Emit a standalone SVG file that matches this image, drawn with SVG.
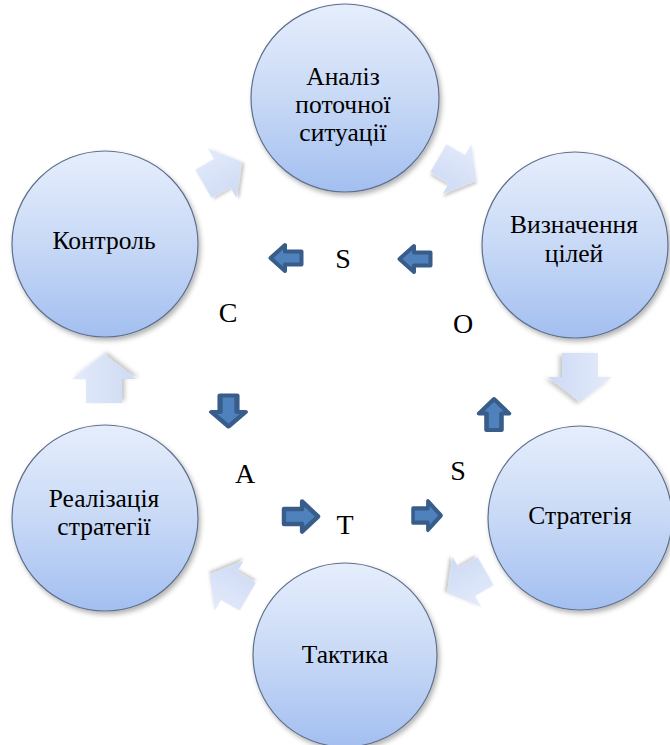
<svg xmlns="http://www.w3.org/2000/svg" width="670" height="745" viewBox="0 0 670 745">
  <defs>
    <linearGradient id="circleFill" x1="0" y1="0" x2="0" y2="1">
      <stop offset="0" stop-color="#e6eefc"/>
      <stop offset="0.5" stop-color="#c8d9f6"/>
      <stop offset="1" stop-color="#a3bff0"/>
    </linearGradient>
    <linearGradient id="paleFill" x1="0" y1="0" x2="0" y2="1">
      <stop offset="0" stop-color="#e4ebfa"/>
      <stop offset="1" stop-color="#cddaf5"/>
    </linearGradient>
    <filter id="shadow" x="-20%" y="-20%" width="140%" height="140%">
      <feDropShadow dx="2" dy="3" stdDeviation="2.5" flood-color="#000" flood-opacity="0.3"/>
    </filter>
    <filter id="softShadow" x="-30%" y="-30%" width="160%" height="160%">
      <feDropShadow dx="2" dy="3" stdDeviation="2" flood-color="#000" flood-opacity="0.22"/>
    </filter>
    <!-- pale block arrow, pointing right, centred on origin -->
    <path id="paleArrow" d="M-24,-18 L0,-18 L0,-32 L25,0 L0,32 L0,18 L-24,18 Z"/>
    <!-- small dark block arrow, pointing right, centred on origin -->
    <path id="darkArrow" d="M-15.5,-6.5 L1,-6.5 L1,-13 L15.5,0 L1,13 L1,6.5 L-15.5,6.5 Z"/>
  </defs>
  <style>
    .node circle { fill: url(#circleFill); stroke: #5e6f8c; stroke-width: 1.2; filter: url(#shadow); }
    .pale { fill: url(#paleFill); filter: url(#softShadow); }
    .dark { fill: #4f81bd; stroke: #385d8a; stroke-width: 4; stroke-linejoin: round; vector-effect: non-scaling-stroke; }
  </style>

  <rect width="670" height="745" fill="#ffffff"/>

  <!-- connectors: pale arrows between stages -->
  <g id="connectors">
    <use href="#paleArrow" class="pale" transform="translate(222,173) rotate(-30) scale(0.9)"/>
    <use href="#paleArrow" class="pale" transform="translate(457,169) rotate(30) scale(0.9)"/>
    <use href="#paleArrow" class="pale" transform="translate(580,377) rotate(90)"/>
    <use href="#paleArrow" class="pale" transform="translate(467,582) rotate(150) scale(0.9)"/>
    <use href="#paleArrow" class="pale" transform="translate(229,586) rotate(-150) scale(0.9)"/>
    <use href="#paleArrow" class="pale" transform="translate(104,379) rotate(-90)"/>
  </g>

  <!-- inner cycle: dark arrows -->
  <g id="inner-arrows">
    <use href="#darkArrow" class="dark" transform="translate(286,258) rotate(180)"/>
    <use href="#darkArrow" class="dark" transform="translate(415,259) rotate(180)"/>
    <use href="#darkArrow" class="dark" transform="translate(228.5,411) rotate(90) scale(1.0,1.3)"/>
    <use href="#darkArrow" class="dark" transform="translate(494,414.5) rotate(-90) scale(1.0,1.15)"/>
    <use href="#darkArrow" class="dark" transform="translate(301,516.5) scale(1.1,1.15)"/>
    <use href="#darkArrow" class="dark" transform="translate(427,515.5) scale(0.9,1.1)"/>
  </g>

  <!-- inner cycle letters -->
  <g id="letters" font-family="Liberation Serif" font-size="28" text-anchor="middle" fill="#000">
    <text x="343" y="268">S</text>
    <text x="228" y="322">C</text>
    <text x="463" y="333">O</text>
    <text x="245" y="483">A</text>
    <text x="458" y="480">S</text>
    <text x="345" y="534">T</text>
  </g>

  <g id="nodes" font-family="Liberation Serif" font-size="25.5" text-anchor="middle" fill="#000">
    <g id="node-analysis" class="node">
      <circle cx="345" cy="98" r="94"/>
      <text x="343" y="85">Аналіз</text>
      <text x="343" y="113">поточної</text>
      <text x="343" y="141">ситуації</text>
    </g>

    <g id="node-goals" class="node">
      <circle cx="575" cy="245" r="93"/>
      <text x="574" y="233">Визначення</text>
      <text x="574" y="262">цілей</text>
    </g>

    <g id="node-strategy" class="node">
      <circle cx="580" cy="518" r="92"/>
      <text x="580" y="524">Стратегія</text>
    </g>

    <g id="node-tactics" class="node">
      <circle cx="345" cy="655" r="92"/>
      <text x="345" y="663">Тактика</text>
    </g>

    <g id="node-implementation" class="node">
      <circle cx="105" cy="518" r="93"/>
      <text x="104" y="507">Реалізація</text>
      <text x="104" y="535">стратегії</text>
    </g>

    <g id="node-control" class="node">
      <circle cx="105" cy="244" r="93"/>
      <text x="104" y="249">Контроль</text>
    </g>
  </g>
</svg>
